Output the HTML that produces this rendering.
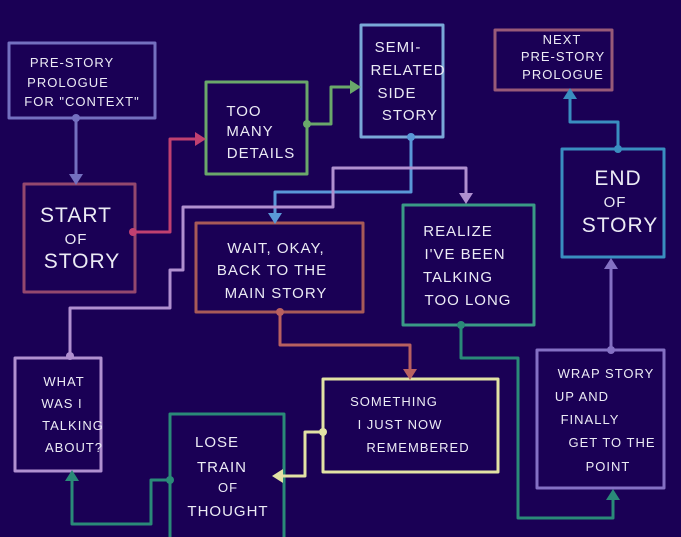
<!DOCTYPE html>
<html><head><style>
html,body{margin:0;padding:0;background:#1a0055;}
svg{display:block}
text{font-family:"Liberation Sans",sans-serif;fill:#ecebf5;text-anchor:middle;letter-spacing:1px}
.s{font-size:13px}.m{font-size:15px}.b{font-size:21px}
rect,path{fill:none;stroke-width:3;stroke-linejoin:round}
polygon{stroke:none}
</style></head><body>
<svg width="681" height="537" viewBox="0 0 681 537" xmlns="http://www.w3.org/2000/svg">
<rect x="0" y="0" width="681" height="537" fill="#1a0055" stroke="none"/>
<!-- boxes -->
<rect x="9" y="43" width="146" height="75" stroke="#7470c0"/>
<rect x="24" y="184" width="111" height="108" stroke="#94486e"/>
<rect x="206" y="82" width="101" height="92" stroke="#6aa86a"/>
<rect x="361" y="25" width="82" height="112" stroke="#7aa8d8"/>
<rect x="196" y="223" width="167" height="89" stroke="#a85a58"/>
<rect x="403" y="205" width="131" height="120" stroke="#3a9a86"/>
<rect x="495" y="30" width="117" height="60" stroke="#985a78"/>
<rect x="562" y="149" width="102" height="108" stroke="#3a8ec0"/>
<rect x="15" y="358" width="86" height="113" stroke="#b090d0"/>
<path d="M170,537V414H284V537" stroke="#2a8a78"/>
<rect x="323" y="379" width="175" height="93" stroke="#e2e2a4"/>
<rect x="537" y="350" width="127" height="138" stroke="#8470c4"/>
<!-- connectors -->
<path d="M76,118V176" stroke="#7470c0"/>
<polygon points="69,174 83,174 76,185" fill="#7470c0"/>
<circle cx="76" cy="118" r="4" fill="#7470c0"/>
<path d="M133,232H170V139H197" stroke="#c04070"/>
<polygon points="195,132 195,146 206,139" fill="#c04070"/>
<circle cx="133" cy="232" r="4" fill="#c04070"/>
<path d="M307,124H331V87H352" stroke="#6aa86a"/>
<polygon points="350,80 350,94 361,87" fill="#6aa86a"/>
<circle cx="307" cy="124" r="4" fill="#6aa86a"/>
<path d="M411,137V192H275V216" stroke="#5a98d8"/>
<polygon points="268,213 282,213 275,224" fill="#5a98d8"/>
<circle cx="411" cy="137" r="4" fill="#5a98d8"/>
<path d="M70,358V308H170V270H183V207H333V168H466V195" stroke="#b090d0"/>
<polygon points="459,193 473,193 466,204" fill="#b090d0"/>
<circle cx="70" cy="356" r="4" fill="#b090d0"/>
<path d="M280,312V345H410V371" stroke="#b86060"/>
<polygon points="403,369 417,369 410,380" fill="#b86060"/>
<circle cx="280" cy="312" r="4" fill="#b86060"/>
<path d="M323,432H305V476H281" stroke="#e2e2a4"/>
<polygon points="283,469 283,483 272,476" fill="#e2e2a4"/>
<circle cx="323" cy="432" r="4" fill="#e2e2a4"/>
<path d="M170,480H151V524H72V478" stroke="#2a8a78"/>
<polygon points="65,481 79,481 72,470" fill="#2a8a78"/>
<circle cx="170" cy="480" r="4" fill="#2a8a78"/>
<path d="M461,325V358H518V518H613V497" stroke="#2a8a78"/>
<polygon points="606,500 620,500 613,489" fill="#2a8a78"/>
<circle cx="461" cy="325" r="4" fill="#2a8a78"/>
<path d="M611,350V266" stroke="#8470c4"/>
<polygon points="604,269 618,269 611,258" fill="#8470c4"/>
<circle cx="611" cy="350" r="4" fill="#8470c4"/>
<path d="M618,149V122H570V96" stroke="#3a8ec0"/>
<polygon points="563,99 577,99 570,88" fill="#3a8ec0"/>
<circle cx="618" cy="149" r="4" fill="#3a8ec0"/>
<!-- text -->
<text class="s" x="72" y="67">PRE-STORY</text>
<text class="s" x="68" y="87">PROLOGUE</text>
<text class="s" x="82" y="106">FOR "CONTEXT"</text>
<text class="b" x="76" y="222">START</text>
<text class="m" x="76" y="244">OF</text>
<text class="b" x="82" y="268">STORY</text>
<text class="m" x="244" y="116">TOO</text>
<text class="m" x="250" y="136">MANY</text>
<text class="m" x="261" y="158">DETAILS</text>
<text class="m" x="398" y="52">SEMI-</text>
<text class="m" x="408" y="75">RELATED</text>
<text class="m" x="397" y="98">SIDE</text>
<text class="m" x="410" y="120">STORY</text>
<text class="m" x="276" y="253">WAIT, OKAY,</text>
<text class="m" x="272" y="275">BACK TO THE</text>
<text class="m" x="276" y="298">MAIN STORY</text>
<text class="m" x="458" y="236">REALIZE</text>
<text class="m" x="465" y="259">I'VE BEEN</text>
<text class="m" x="458" y="282">TALKING</text>
<text class="m" x="468" y="305">TOO LONG</text>
<text class="s" x="562" y="44">NEXT</text>
<text class="s" x="563" y="61">PRE-STORY</text>
<text class="s" x="563" y="79">PROLOGUE</text>
<text class="b" x="618" y="185">END</text>
<text class="m" x="615" y="207">OF</text>
<text class="b" x="620" y="232">STORY</text>
<text class="s" x="64" y="386">WHAT</text>
<text class="s" x="62" y="408">WAS I</text>
<text class="s" x="73" y="430">TALKING</text>
<text class="s" x="74" y="452">ABOUT?</text>
<text class="m" x="217" y="447">LOSE</text>
<text class="m" x="222" y="472">TRAIN</text>
<text class="s" x="228" y="492">OF</text>
<text class="m" x="228" y="516">THOUGHT</text>
<text class="s" x="394" y="406">SOMETHING</text>
<text class="s" x="400" y="429">I JUST NOW</text>
<text class="s" x="418" y="452">REMEMBERED</text>
<text class="s" x="606" y="378">WRAP STORY</text>
<text class="s" x="582" y="401">UP AND</text>
<text class="s" x="590" y="424">FINALLY</text>
<text class="s" x="612" y="447">GET TO THE</text>
<text class="s" x="608" y="471">POINT</text>
</svg>
</body></html>
